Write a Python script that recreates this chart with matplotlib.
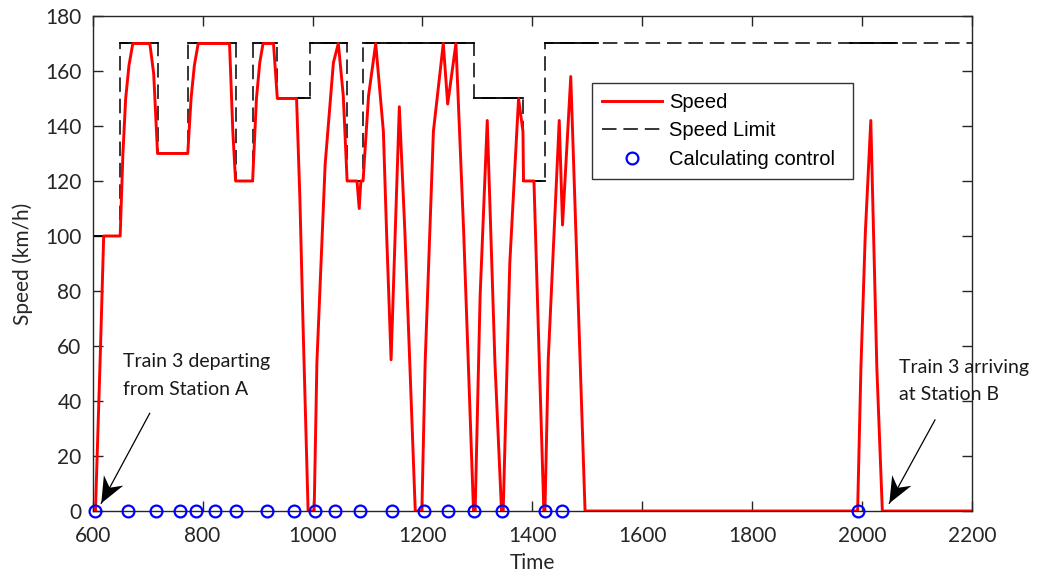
import numpy as np
import matplotlib
matplotlib.use('Agg')
import matplotlib.pyplot as plt
from matplotlib.patches import Polygon

# speed limit profile (step): boundaries and value on each segment
limit_t = [600, 650, 718, 773, 861, 891, 935, 995, 1063, 1092, 1293, 1383, 1424, 2200]
limit_v = [100, 170, 130, 170, 120, 170, 150, 170, 120, 170, 150, 120, 170]
# time windows where the limit is drawn as a solid line
solid_windows = [(600, 1520), (1978, 2063)]

speed_t = [605, 614, 620, 650, 655, 660, 666, 673, 704, 711, 718, 773, 779, 785, 792,
           849, 855, 860, 891, 898, 904, 910, 929, 936, 971, 977, 983, 992, 1003,
           1008, 1023, 1038, 1047, 1056, 1063, 1081, 1085, 1088, 1092, 1102, 1115,
           1129, 1135, 1143, 1158, 1168, 1177, 1187, 1199, 1205, 1220, 1238, 1246,
           1261, 1275, 1293, 1296, 1305, 1318, 1332, 1344, 1347, 1359, 1375, 1383,
           1384, 1403, 1411, 1421, 1423, 1429, 1449, 1455, 1470, 1496, 1992, 1998,
           2006, 2016, 2021, 2027, 2037, 2200]
speed_v = [0, 58, 100, 100, 130, 150, 162, 170, 170, 159, 130, 130, 150, 162, 170,
           170, 138, 120, 120, 150, 163, 170, 170, 150, 150, 114, 66, 0, 0,
           54, 126, 163, 170, 151, 120, 120, 110, 120, 120, 151, 170,
           138, 100, 55, 147, 102, 54, 0, 0, 54, 138, 170, 148,
           170, 102, 0, 0, 78, 142, 54, 0, 0, 90, 150, 138,
           120, 120, 66, 0, 0, 55, 142, 104, 158, 0, 0, 52,
           101, 142, 101, 52, 0, 0]

control_t = [604, 664, 715, 758, 788, 823, 860, 918, 966, 1004, 1041, 1087, 1144,
             1202, 1247, 1293, 1345, 1424, 1454, 1992]

label_font = 'Lato'
text_col = '#262626'


def matlab_arrow(ax, tail, tip, length=26, half_w=11, notch=0.68):
  """Line with a swept-back filled head, sized in pixels."""
  ax.plot([tail[0], tip[0]], [tail[1], tip[1]], color='black', lw=0.9, zorder=5,
          clip_on=False)
  p_tip = ax.transData.transform(tip)
  p_tail = ax.transData.transform(tail)
  d = (p_tip - p_tail) / np.hypot(*(p_tip - p_tail))
  n = np.array([-d[1], d[0]])
  base = p_tip - d * length
  pts = np.array([p_tip, base + n * half_w, p_tip - d * length * notch, base - n * half_w])
  pts = ax.transData.inverted().transform(pts)
  ax.add_patch(Polygon(pts, closed=True, color='black', lw=0, zorder=5, clip_on=False))


fig = plt.figure(figsize=(10.57, 5.75), dpi=100)
ax = fig.add_axes([0.0877, 0.1113, 0.8318, 0.8609])

# dashed speed limit
st = np.repeat(limit_t, 2)[1:-1]
sv = np.repeat(limit_v, 2)
ax.plot(st, sv, color='black', lw=1.1, dashes=(9.5, 4.5), label='Speed Limit', zorder=2)

# solid parts of the limit
for i, v in enumerate(limit_v):
  for w0, w1 in solid_windows:
    a = max(limit_t[i], w0)
    b = min(limit_t[i + 1], w1)
    if b > a:
      ax.plot([a, b], [v, v], color='black', lw=1.3, zorder=2)

ax.plot(speed_t, speed_v, color='red', lw=2.1, label='Speed', zorder=3)
ax.plot(control_t, np.zeros(len(control_t)), 'o', mfc='none', mec='blue', ms=8.5,
        mew=1.6, label='Calculating control', zorder=4, clip_on=False)

ax.set_xlim(600, 2200)
ax.set_ylim(0, 180)
ax.set_xticks(np.arange(600, 2201, 200))
ax.set_yticks(np.arange(0, 181, 20))
ax.tick_params(direction='in', length=7, width=1, top=True, right=True,
               labelsize=15, colors=text_col)
ax.tick_params(axis='x', pad=11)
ax.tick_params(axis='y', pad=8)
for lab in ax.get_xticklabels() + ax.get_yticklabels():
  lab.set_family(label_font)
for s in ax.spines.values():
  s.set_color(text_col)
  s.set_linewidth(1.0)

ax.set_xlabel('Time', fontsize=15, family=label_font, color=text_col)
ax.set_ylabel('Speed (km/h)', fontsize=15, family=label_font, color=text_col)
ax.xaxis.set_label_coords(0.5, -0.084)
ax.yaxis.set_label_coords(-0.068, 0.5)

h, l = ax.get_legend_handles_labels()
order = [1, 0, 2]
leg = ax.legend([h[i] for i in order], [l[i] for i in order],
                loc='upper left', bbox_to_anchor=(0.5676, 0.6768, 0.2968, 0.1885),
                mode='expand', borderaxespad=0,
                prop={'family': 'Liberation Sans', 'size': 14.5}, fancybox=False,
                framealpha=1, edgecolor='#333333', handlelength=3.0,
                handletextpad=0.35, labelspacing=0.47, borderpad=0.5)
leg.get_frame().set_linewidth(1.0)

matlab_arrow(ax, (703.7, 35.5), (615.6, 2.8))
matlab_arrow(ax, (2132.8, 33.1), (2049.7, 2.8))
ax.text(655, 57.3, 'Train 3 departing\nfrom Station A', fontsize=14, family=label_font,
        va='top', ha='left', linespacing=1.72, color='#1a1a1a')
ax.text(2068, 55.4, 'Train 3 arriving\nat Station B', fontsize=14, family=label_font,
        va='top', ha='left', linespacing=1.72, color='#1a1a1a', clip_on=False)

fig.savefig('out.png', dpi=100)
